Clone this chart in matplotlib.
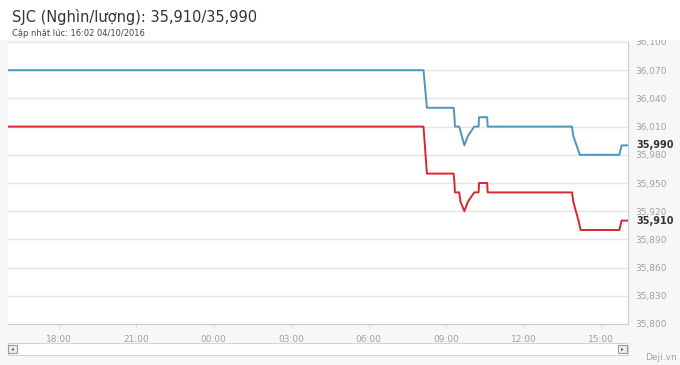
# -*- coding: utf-8 -*-
import pandas as pd
import matplotlib
matplotlib.use("Agg")
import matplotlib.pyplot as plt
import matplotlib.dates as mdates
from matplotlib.patches import Rectangle
from matplotlib.ticker import FuncFormatter

# giá bán (sell) - xanh
sell_times = ["2016-10-03 16:02", "2016-10-04 08:07", "2016-10-04 08:15", "2016-10-04 09:17",
              "2016-10-04 09:19", "2016-10-04 09:20", "2016-10-04 09:30", "2016-10-04 09:42",
              "2016-10-04 09:50", "2016-10-04 10:05", "2016-10-04 10:15", "2016-10-04 10:16",
              "2016-10-04 10:35", "2016-10-04 10:36", "2016-10-04 13:52", "2016-10-04 13:55",
              "2016-10-04 14:10", "2016-10-04 15:42", "2016-10-04 15:47", "2016-10-04 16:02"]
sell_vals = [36070, 36070, 36030, 36030, 36020, 36010, 36010, 35990, 36000, 36010,
             36010, 36020, 36020, 36010, 36010, 36000, 35980, 35980, 35990, 35990]

# giá mua (buy) - đỏ
buy_times = ["2016-10-03 16:02", "2016-10-04 08:07", "2016-10-04 08:15", "2016-10-04 09:17",
             "2016-10-04 09:19", "2016-10-04 09:20", "2016-10-04 09:30", "2016-10-04 09:33",
             "2016-10-04 09:42", "2016-10-04 09:50", "2016-10-04 10:05", "2016-10-04 10:15",
             "2016-10-04 10:16", "2016-10-04 10:35", "2016-10-04 10:36", "2016-10-04 13:52",
             "2016-10-04 13:55", "2016-10-04 14:07", "2016-10-04 14:12", "2016-10-04 15:42",
             "2016-10-04 15:47", "2016-10-04 16:02"]
buy_vals = [36010, 36010, 35960, 35960, 35950, 35940, 35940, 35930, 35920, 35930, 35940,
            35940, 35950, 35950, 35940, 35940, 35930, 35910, 35900, 35900, 35910, 35910]

y_ticks = [35800, 35830, 35860, 35890, 35920, 35950, 35980, 36010, 36040, 36070, 36100]
x_ticks = ["2016-10-03 18:00", "2016-10-03 21:00", "2016-10-04 00:00", "2016-10-04 03:00",
           "2016-10-04 06:00", "2016-10-04 09:00", "2016-10-04 12:00", "2016-10-04 15:00"]

W, H = 680, 365
fig = plt.figure(figsize=(6.8, 3.65), dpi=100, facecolor="#f7f7f7")
# header trắng
fig.patches.append(Rectangle((0, 1 - 40 / H), 1, 40 / H, transform=fig.transFigure,
                             facecolor="white", edgecolor="none", zorder=0))

ax = fig.add_axes([8 / W, 1 - 324 / H, 620 / W, 282 / H])
ax.set_facecolor("white")

st = pd.to_datetime(sell_times)
bt = pd.to_datetime(buy_times)
ax.plot(st, sell_vals, color="#4e95be", lw=1.4, zorder=3)
ax.plot(bt, buy_vals, color="#d8262c", lw=1.4, zorder=3)

ax.set_xlim(pd.Timestamp("2016-10-03 16:02"), pd.Timestamp("2016-10-04 16:02"))
ax.set_ylim(35800, 36100)
ax.set_yticks(y_ticks)
ax.yaxis.tick_right()
ax.yaxis.set_major_formatter(FuncFormatter(lambda v, p: f"{int(v):,}"))
ax.set_xticks(pd.to_datetime(x_ticks))
ax.xaxis.set_major_formatter(mdates.DateFormatter("%H:%M"))
ax.grid(axis="y", color="#e4e4e4", lw=1)
ax.tick_params(axis="y", length=0, labelsize=6.5, labelcolor="#a0a0a0", pad=5)
ax.tick_params(axis="x", length=3, color="#dddddd", labelsize=6.5, labelcolor="#a0a0a0", pad=5)
for s in ["top", "left"]:
    ax.spines[s].set_visible(False)
ax.spines["right"].set_color("#cccccc")
ax.spines["bottom"].set_color("#cccccc")
ax.spines["right"].set_linewidth(0.8)
ax.spines["bottom"].set_linewidth(0.8)

# giá hiện tại
ax.text(1.014, sell_vals[-1], f"{sell_vals[-1]:,}", transform=ax.get_yaxis_transform(),
        fontsize=7, fontweight="bold", color="#333333", va="center", ha="left")
ax.text(1.014, buy_vals[-1], f"{buy_vals[-1]:,}", transform=ax.get_yaxis_transform(),
        fontsize=7, fontweight="bold", color="#333333", va="center", ha="left")

fig.text(12 / W, 1 - 17 / H, "SJC (Nghìn/lượng): 35,910/35,990", fontsize=10.5,
         color="#333333", va="center", ha="left")
fig.text(12 / W, 1 - 33 / H, "Cập nhật lúc: 16:02 04/10/2016", fontsize=6,
         color="#444444", va="center", ha="left")

# thanh cuộn
fig.patches.append(Rectangle((8 / W, 1 - 355 / H), 620 / W, 12 / H, transform=fig.transFigure,
                             facecolor="white", edgecolor="#d5d5d5", lw=0.8))
for bx in [8, 618]:
    fig.patches.append(Rectangle((bx / W, 1 - 353 / H), 9 / W, 8 / H, transform=fig.transFigure,
                                 facecolor="#ececec", edgecolor="#999999", lw=0.8))
fig.text(12.5 / W, 1 - 349 / H, "◂", fontsize=4, color="#555555", ha="center", va="center")
fig.text(622.5 / W, 1 - 349 / H, "▸", fontsize=4, color="#555555", ha="center", va="center")
fig.text(645 / W, 1 - 358 / H, "Deji.vn", fontsize=6.5, color="#a0a0a0", ha="left", va="center")

fig.savefig("out.png", dpi=100, facecolor=fig.get_facecolor())
